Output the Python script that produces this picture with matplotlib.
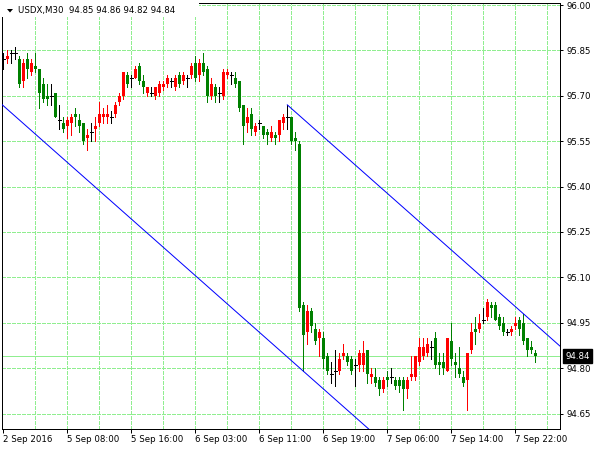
import matplotlib
matplotlib.use("Agg")
import matplotlib.pyplot as plt
import matplotlib.transforms as mtransforms
from matplotlib.patches import Rectangle, Polygon
import numpy as np

# USDX M30 candles (bar 0 = "2 Sep 2016")
opens = [95.82, 95.82, 95.84, 95.84, 95.82, 95.75, 95.82, 95.78, 95.80, 95.79,
         95.74, 95.70, 95.70, 95.71, 95.62, 95.61, 95.60, 95.61, 95.64, 95.62,
         95.61, 95.56, 95.58, 95.59, 95.61, 95.63, 95.63, 95.63, 95.64, 95.68,
         95.70, 95.77, 95.76, 95.76, 95.80, 95.75, 95.71, 95.71, 95.70, 95.71,
         95.73, 95.74, 95.75, 95.73, 95.77, 95.75, 95.76, 95.77, 95.81, 95.77,
         95.81, 95.79, 95.70, 95.73, 95.71, 95.70, 95.77, 95.77, 95.76, 95.75,
         95.67, 95.61, 95.64, 95.58, 95.61, 95.60, 95.58, 95.56, 95.57, 95.57,
         95.61, 95.63, 95.63, 95.56, 95.54, 95.01, 94.92, 94.99, 94.93, 94.90,
         94.90, 94.84, 94.78, 94.79, 94.79, 94.84, 94.84, 94.83, 94.81, 94.81,
         94.81, 94.86, 94.77, 94.77, 94.76, 94.73, 94.77, 94.77, 94.76, 94.76,
         94.76, 94.73, 94.77, 94.77, 94.82, 94.84, 94.85, 94.87, 94.90, 94.82,
         94.82, 94.79, 94.89, 94.82, 94.80, 94.77, 94.76, 94.86, 94.93, 94.93,
         94.96, 94.97, 95.01, 95.01, 94.97, 94.95, 94.92, 94.92, 94.94, 94.96,
         94.95, 94.90, 94.87, 94.85]
highs = [95.84, 95.85, 95.85, 95.86, 95.83, 95.82, 95.84, 95.82, 95.84, 95.79,
         95.76, 95.74, 95.74, 95.71, 95.67, 95.63, 95.63, 95.64, 95.66, 95.64,
         95.61, 95.59, 95.61, 95.63, 95.68, 95.66, 95.67, 95.65, 95.68, 95.71,
         95.78, 95.78, 95.77, 95.80, 95.81, 95.77, 95.73, 95.73, 95.73, 95.75,
         95.75, 95.77, 95.76, 95.77, 95.78, 95.78, 95.77, 95.81, 95.83, 95.82,
         95.84, 95.80, 95.76, 95.74, 95.73, 95.79, 95.79, 95.78, 95.78, 95.75,
         95.67, 95.66, 95.66, 95.61, 95.62, 95.60, 95.59, 95.60, 95.58, 95.62,
         95.64, 95.67, 95.63, 95.58, 95.55, 95.02, 95.01, 95.00, 94.95, 94.93,
         94.92, 94.85, 94.82, 94.86, 94.85, 94.88, 94.85, 94.84, 94.83, 94.86,
         94.89, 94.86, 94.80, 94.80, 94.77, 94.77, 94.79, 94.80, 94.77, 94.77,
         94.77, 94.77, 94.84, 94.84, 94.90, 94.90, 94.90, 94.89, 94.92, 94.85,
         94.85, 94.90, 94.95, 94.85, 94.87, 94.79, 94.85, 94.95, 94.97, 94.98,
         95.00, 95.03, 95.02, 95.02, 94.98, 94.97, 94.93, 94.94, 94.97, 94.97,
         94.98, 94.90, 94.89, 94.86]
lows = [95.79, 95.81, 95.81, 95.82, 95.73, 95.73, 95.76, 95.77, 95.78, 95.66,
        95.68, 95.67, 95.67, 95.63, 95.59, 95.58, 95.56, 95.57, 95.60, 95.58,
        95.54, 95.52, 95.55, 95.55, 95.60, 95.61, 95.61, 95.61, 95.63, 95.67,
        95.69, 95.73, 95.73, 95.76, 95.74, 95.71, 95.70, 95.70, 95.69, 95.70,
        95.72, 95.73, 95.73, 95.72, 95.73, 95.74, 95.73, 95.76, 95.75, 95.75,
        95.77, 95.68, 95.69, 95.68, 95.68, 95.69, 95.76, 95.74, 95.73, 95.65,
        95.54, 95.58, 95.57, 95.57, 95.59, 95.56, 95.54, 95.55, 95.54, 95.55,
        95.59, 95.59, 95.54, 95.52, 94.99, 94.79, 94.88, 94.92, 94.88, 94.84,
        94.80, 94.78, 94.75, 94.74, 94.78, 94.83, 94.81, 94.78, 94.74, 94.79,
        94.79, 94.75, 94.75, 94.74, 94.71, 94.72, 94.74, 94.75, 94.73, 94.72,
        94.66, 94.70, 94.76, 94.76, 94.81, 94.83, 94.84, 94.83, 94.80, 94.78,
        94.78, 94.79, 94.81, 94.77, 94.77, 94.74, 94.66, 94.85, 94.88, 94.92,
        94.95, 94.96, 94.97, 94.96, 94.93, 94.91, 94.91, 94.91, 94.93, 94.91,
        94.88, 94.84, 94.85, 94.82]
closes = [95.82, 95.83, 95.84, 95.84, 95.74, 95.81, 95.79, 95.81, 95.79, 95.71,
          95.69, 95.69, 95.70, 95.63, 95.62, 95.59, 95.62, 95.63, 95.63, 95.60,
          95.55, 95.57, 95.58, 95.60, 95.64, 95.64, 95.64, 95.63, 95.67, 95.70,
          95.78, 95.74, 95.76, 95.79, 95.75, 95.73, 95.73, 95.71, 95.73, 95.74,
          95.74, 95.76, 95.75, 95.76, 95.74, 95.77, 95.76, 95.80, 95.76, 95.81,
          95.78, 95.70, 95.74, 95.70, 95.71, 95.78, 95.78, 95.77, 95.74, 95.66,
          95.60, 95.63, 95.59, 95.60, 95.61, 95.57, 95.57, 95.58, 95.56, 95.62,
          95.63, 95.63, 95.55, 95.55, 95.00, 94.91, 94.99, 94.94, 94.89, 94.92,
          94.83, 94.79, 94.78, 94.79, 94.83, 94.85, 94.82, 94.79, 94.81, 94.85,
          94.85, 94.78, 94.78, 94.75, 94.73, 94.76, 94.76, 94.77, 94.74, 94.74,
          94.73, 94.76, 94.78, 94.84, 94.87, 94.87, 94.88, 94.87, 94.81, 94.81,
          94.80, 94.90, 94.83, 94.81, 94.78, 94.75, 94.85, 94.92, 94.92, 94.95,
          94.96, 95.02, 95.00, 94.96, 94.94, 94.92, 94.92, 94.93, 94.95, 94.93,
          94.89, 94.86, 94.86, 94.84]

time_ticks = [0, 16, 32, 48, 64, 80, 96, 112, 128]
time_labels = ["2 Sep 2016", "5 Sep 08:00", "5 Sep 16:00", "6 Sep 03:00",
               "6 Sep 11:00", "6 Sep 19:00", "7 Sep 06:00", "7 Sep 14:00",
               "7 Sep 22:00"]
price_ticks = [94.65, 94.80, 94.95, 95.10, 95.25, 95.40, 95.55, 95.70, 95.85, 96.00]

# channel: upper line from bar 71 high to bar 130 high, lower one parallel through bar 75 low
upper_pts = [(71, 95.67), (130, 94.98)]
lower_anchor = (75, 94.79)

last_price = 94.84
header = "USDX,M30  94.85 94.86 94.82 94.84"

GRID = "#90EE90"
BULL = "#FF0000"
BEAR = "#008000"
DOJI = "#000000"
PX = 0.72  # one pixel in points at 100 dpi


def candle_color(o, c):
    if c > o:
        return BULL
    if c < o:
        return BEAR
    return DOJI


def draw_candles(ax):
    x = np.arange(len(opens))
    o = np.array(opens)
    h = np.array(highs)
    l = np.array(lows)
    c = np.array(closes)
    colors = [candle_color(a, b) for a, b in zip(o, c)]

    ax.vlines(x, l, h, colors=colors, linewidth=PX, antialiased=False, zorder=3)
    body = np.abs(c - o)
    bottom = np.minimum(o, c)
    solid = body > 0
    ax.bar(x[solid], body[solid], bottom=bottom[solid], width=0.78,
           color=[colors[i] for i in np.where(solid)[0]], linewidth=0,
           antialiased=False, zorder=4)
    flat = ~solid
    ax.hlines(o[flat], x[flat] - 0.4, x[flat] + 0.4, colors=DOJI,
              linewidth=PX, antialiased=False, zorder=4)


def draw_channel(ax):
    (x0, y0), (x1, y1) = upper_pts
    slope = (y1 - y0) / (x1 - x0)
    xs = np.array([x0, 200])
    ax.plot(xs, y0 + slope * (xs - x0), color="#0000FF", linewidth=PX, zorder=5)
    ax_, ay_ = lower_anchor
    xs = np.array([-20, 200])
    ax.plot(xs, ay_ + slope * (xs - ax_), color="#0000FF", linewidth=PX, zorder=5)


def main():
    plt.rcParams["font.family"] = ["DejaVu Sans"]
    fig = plt.figure(figsize=(6, 4.5), dpi=100)
    fig.patch.set_facecolor("white")
    ax = fig.add_axes([2 / 600, 21 / 450, 558 / 600, 426.5 / 450])

    ax.set_xlim(-0.325, 139.175)
    ax.set_ylim(94.5988, 96.0083)

    for gx in range(8, 140, 8):
        ax.axvline(gx, color=GRID, linewidth=PX, linestyle=(0, (3, 2)),
                   antialiased=False, zorder=1)
    for gy in price_ticks:
        ax.axhline(gy, color=GRID, linewidth=PX, linestyle=(0, (3, 2)),
                   antialiased=False, zorder=1)
    ax.axhline(last_price, color=GRID, linewidth=PX, antialiased=False, zorder=2)

    draw_candles(ax)
    draw_channel(ax)

    ax.set_xticks(time_ticks)
    ax.set_xticklabels(time_labels, fontsize=6.2)
    for lbl in ax.get_xticklabels():
        lbl.set_horizontalalignment("left")
    ax.tick_params(axis="x", length=3, width=PX, pad=1.5, direction="out")

    ax.yaxis.tick_right()
    ax.set_yticks(price_ticks)
    ax.set_yticklabels(["%.2f" % p for p in price_ticks], fontsize=6.2)
    ax.tick_params(axis="y", length=2.5, width=PX, pad=2, direction="out")

    for s in ax.spines.values():
        s.set_linewidth(PX)
        s.set_color("black")

    trans = mtransforms.blended_transform_factory(ax.transAxes, ax.transData)
    ax.text(1 + 5 / 558, last_price, "%.2f" % last_price, transform=trans,
            fontsize=6.2, color="white", ha="left", va="center", zorder=10,
            bbox=dict(boxstyle="square,pad=0.25", fc="black", ec="black"),
            clip_on=False)

    # header panel
    fig.patches.append(Rectangle((0, 1 - 17 / 450), 199 / 600, 17 / 450,
                                 transform=fig.transFigure, fc="white", ec="none",
                                 zorder=5))
    fig.patches.append(Polygon([[7 / 600, 1 - 9 / 450], [13 / 600, 1 - 9 / 450],
                                [10 / 600, 1 - 12.5 / 450]],
                               transform=fig.transFigure, fc="black", ec="none",
                               zorder=6))
    fig.text(18 / 600, 1 - 10.5 / 450, header, fontsize=6.2, color="black",
             va="center", ha="left", zorder=7)

    fig.savefig("out.png", dpi=100)


main()
